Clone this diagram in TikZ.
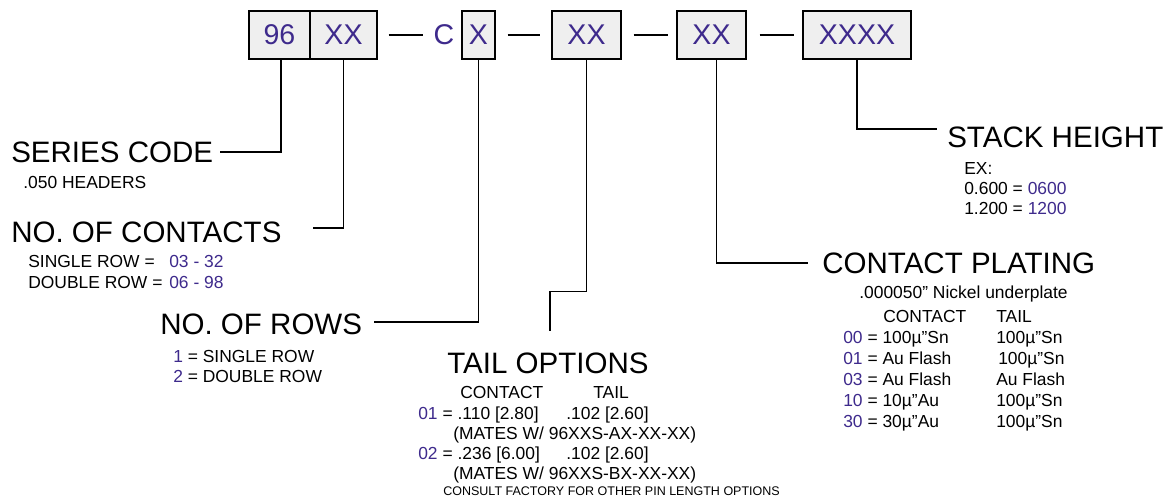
\documentclass[tikz,border=0pt]{standalone}
\usepackage{fontspec}
\setmainfont{Liberation Sans}
\definecolor{codeblue}{RGB}{62,42,140}
\definecolor{boxgray}{RGB}{239,239,239}
\tikzset{
  field/.style={draw, line width=0.9pt, fill=boxgray, text=codeblue, inner sep=0pt, minimum height=1.2cm, font=\fontsize{20.3pt}{24pt}\selectfont},
  head/.style={anchor=base west, inner sep=0pt, font=\fontsize{21pt}{25pt}\selectfont},
  info/.style={anchor=base west, inner sep=0pt, font=\fontsize{12.4pt}{15pt}\selectfont},
  code/.style={info, text=codeblue},
  note/.style={anchor=base west, inner sep=0pt, font=\fontsize{8.9pt}{11pt}\selectfont},
  lead/.style={line width=0.9pt}
}
\begin{document}
\begin{tikzpicture}[x=0.025cm, y=-0.025cm]
\useasboundingbox (0, 0) rectangle (1171, 502);

\node (b96) at (279.5, 35) [field, minimum width=1.525cm] {96};
\node (bnum) at (343.5, 35) [field, minimum width=1.675cm] {XX};
\node (cx) at (444, 35) [inner sep=0pt, text=codeblue, font=\fontsize{20.3pt}{24pt}\selectfont] {C};
\node (brow) at (478.5, 35) [field, minimum width=0.825cm] {X};
\node (btail) at (586.5, 35) [field, minimum width=1.725cm] {XX};
\node (bplate) at (711.5, 35) [field, minimum width=1.725cm] {XX};
\node (bstack) at (857, 35) [field, minimum width=2.7cm] {XXXX};
\draw [lead] ([xshift=0.275cm]bnum.east) -- ++(34, 0);
\draw [lead] ([xshift=0.3cm]brow.east) -- ++(32, 0);
\draw [lead] ([xshift=0.3cm]btail.east) -- ++(34, 0);
\draw [lead] ([xshift=0.325cm]bplate.east) -- ++(34, 0);

\node (sc) at (11, 162) [head] {SERIES CODE};
\node (sc1) at (23, 188) [info] {.050 HEADERS};
\node (nc) at (11, 242) [head] {NO. OF CONTACTS};
\node (nc1) at (28, 267) [info] {SINGLE ROW =};
\node (nc2) at (28, 288) [info] {DOUBLE ROW =};
\node (nc1v) at (169, 267) [code] {03 - 32};
\node (nc2v) at (169, 288) [code] {06 - 98};
\node (nr) at (160, 334) [head] {NO. OF ROWS};
\node (nr1) at (173, 362) [info] {{\color{codeblue}1} = SINGLE ROW};
\node (nr2) at (173, 382) [info] {{\color{codeblue}2} = DOUBLE ROW};

\node (to) at (447, 373) [head] {TAIL OPTIONS};
\node (toc) at (460, 398) [info] {CONTACT};
\node (tot) at (593, 398) [info] {TAIL};
\node (to1) at (418, 419) [info] {{\color{codeblue}01} = .110 [2.80]};
\node (to1t) at (566, 419) [info] {.102 [2.60]};
\node (to1m) at (453, 439) [info] {(MATES W/ 96XXS-AX-XX-XX)};
\node (to2) at (418, 459) [info] {{\color{codeblue}02} = .236 [6.00]};
\node (to2t) at (566, 459) [info] {.102 [2.60]};
\node (to2m) at (453, 479) [info] {(MATES W/ 96XXS-BX-XX-XX)};
\node (tonote) at (443, 495) [note] {CONSULT FACTORY FOR OTHER PIN LENGTH OPTIONS};

\node (cp) at (822, 273) [head] {CONTACT PLATING};
\node (cp0) at (859, 298) [info] {.000050” Nickel underplate};
\node (cpc) at (883, 322) [info] {CONTACT};
\node (cpt) at (996, 322) [info] {TAIL};
\node (cp1) at (843, 343) [info] {{\color{codeblue}00} = 100µ”Sn};
\node (cp1t) at (996, 343) [info] {100µ”Sn};
\node (cp2) at (843, 364) [info] {{\color{codeblue}01} = Au Flash};
\node (cp2t) at (998, 364) [info] {100µ”Sn};
\node (cp3) at (843, 385) [info] {{\color{codeblue}03} = Au Flash};
\node (cp3t) at (996, 385) [info] {Au Flash};
\node (cp4) at (843, 406) [info] {{\color{codeblue}10} = 10µ”Au};
\node (cp4t) at (996, 406) [info] {100µ”Sn};
\node (cp5) at (843, 427) [info] {{\color{codeblue}30} = 30µ”Au};
\node (cp5t) at (996, 427) [info] {100µ”Sn};

\node (sh) at (947, 147) [head] {STACK HEIGHT};
\node (sh0) at (964, 174) [info] {EX:};
\node (sh1) at (964, 194) [info] {0.600 = {\color{codeblue}0600}};
\node (sh2) at (964, 214) [info] {1.200 = {\color{codeblue}1200}};

\coordinate (scin) at (220, 152);
\coordinate (ncin) at (313, 228);
\coordinate (nrin) at (374, 322);
\coordinate (toin) at (550, 331);
\coordinate (cpin) at (808, 263);
\coordinate (shin) at (937, 129);
\draw [lead] ([xshift=0.04cm]b96.south) |- (scin);
\draw [lead] (bnum.south) |- (ncin);
\draw [lead] (brow.south) |- (nrin);
\draw [lead] (btail.south) -- ++(0, 232) -| (toin);
\draw [lead] ([xshift=0.13cm]bplate.south) |- (cpin);
\draw [lead] (bstack.south) |- (shin);
\end{tikzpicture}
\end{document}
